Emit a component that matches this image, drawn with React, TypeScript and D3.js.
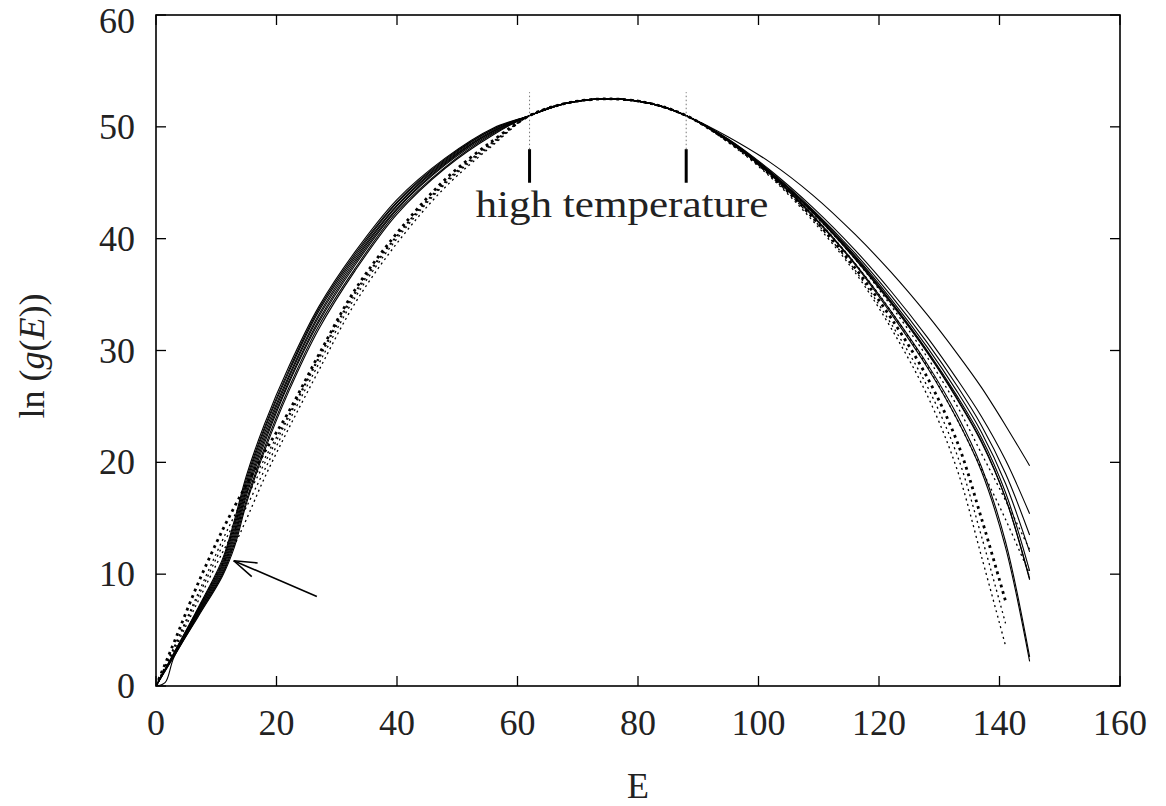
import React from "react";
import * as d3 from "d3";

// ---- grids (E values) ----
const E_LEFT = [0, 1.5, 3, 7, 11, 13, 15, 18, 22, 27, 33, 40, 48, 56];
const E_PEAK = [62, 68, 75, 82, 88];
const E_RIGHT = [95, 102, 109, 116, 122, 128, 133, 137, 141, 145];
const PEAK = [51.0, 52.1, 52.5, 52.1, 51.0];

// ---- solid curves: left branches ----
const L1 = [0, 1.5, 3.0, 7.0, 11.3, 14.8, 18.8, 23.4, 28.5, 33.9, 38.8, 43.5, 47.2, 49.9];
const L2 = [0, 1.48, 2.95, 6.9, 11.1, 14.5, 18.5, 23.1, 28.2, 33.7, 38.6, 43.3, 47.1, 49.8];
const L3 = [0, 1.45, 2.9, 6.8, 10.9, 14.2, 18.2, 22.9, 28.0, 33.5, 38.4, 43.2, 47.0, 49.8];
const L4 = [0, 1.42, 2.85, 6.7, 10.7, 13.9, 17.9, 22.6, 27.7, 33.2, 38.2, 43.0, 46.9, 49.7];
const L5 = [0, 1.4, 2.8, 6.6, 10.5, 13.6, 17.6, 22.3, 27.5, 33.0, 38.0, 42.9, 46.8, 49.6];
const L6 = [0, 1.38, 2.75, 6.5, 10.3, 13.3, 17.3, 22.0, 27.2, 32.7, 37.8, 42.7, 46.7, 49.6];
const L7 = [0, 1.35, 2.7, 6.4, 10.1, 13.0, 17.0, 21.7, 27.0, 32.5, 37.6, 42.6, 46.6, 49.5];
const L8 = [0, 1.32, 2.65, 6.3, 9.95, 12.7, 16.6, 21.3, 26.6, 32.2, 37.3, 42.4, 46.4, 49.4];
const L9 = [0, 0.3, 2.6, 6.2, 9.8, 12.4, 16.3, 21.0, 26.3, 31.9, 37.1, 42.2, 46.3, 49.3];

// ---- solid curves: right branches ----
const R1 = [49.1, 46.8, 43.9, 40.4, 37.0, 33.2, 29.7, 26.7, 23.3, 19.7];
const R2 = [48.9, 46.1, 42.8, 39.0, 35.3, 31.2, 27.4, 24.1, 20.2, 15.4];
const R3 = [48.9, 46.0, 42.6, 38.7, 34.9, 30.7, 26.8, 23.3, 19.0, 13.5];
const R4 = [48.8, 45.9, 42.5, 38.5, 34.6, 30.3, 26.3, 22.7, 18.1, 12.0];
const R5 = [48.8, 45.9, 42.4, 38.4, 34.4, 30.0, 25.9, 22.2, 17.3, 10.3];
const R6 = [48.8, 45.8, 42.3, 38.2, 34.2, 29.8, 25.6, 21.8, 16.8, 9.6];
const R7 = [48.8, 45.9, 42.4, 38.3, 34.3, 29.9, 25.7, 21.9, 16.8, 9.5];
const R8 = [48.7, 45.7, 42.0, 37.7, 33.3, 28.5, 23.8, 19.2, 12.4, 2.2];
const R9 = [48.7, 45.8, 42.1, 37.8, 33.5, 28.8, 24.2, 19.6, 12.9, 2.6];

// ---- dotted curves ----
const DL1 = [0, 1.95, 3.9, 9.2, 13.9, 16.0, 18.0, 20.9, 24.5, 29.6, 35.4, 40.5, 45.3, 48.8];
const DL2 = [0, 1.45, 2.9, 6.9, 10.9, 12.6, 14.9, 18.6, 23.0, 28.2, 34.2, 39.6, 44.6, 48.4];
const DL3 = [0, 1.7, 3.4, 8.0, 12.5, 14.6, 16.8, 19.9, 24.0, 29.2, 35.0, 40.2, 45.0, 48.6];
const DL4 = [0, 1.6, 3.2, 7.6, 11.9, 13.9, 16.0, 19.3, 23.6, 28.8, 34.7, 40.0, 44.9, 48.5];
const DL5 = [0, 1.75, 3.5, 8.3, 13.0, 15.2, 17.3, 20.3, 24.2, 29.4, 35.2, 40.3, 45.1, 48.7];

const DR1 = [48.7, 45.7, 41.9, 37.4, 32.9, 27.6, 21.8, 15.0, 7.6];
const DR2 = [48.6, 45.5, 41.6, 37.0, 32.0, 26.0, 19.3, 11.6, 3.6];
const DR3 = [48.7, 45.6, 41.8, 37.2, 32.4, 26.8, 20.6, 13.4, 5.6];
const DR4 = [48.8, 45.8, 42.1, 37.8, 33.5, 28.6, 23.8, 19.4, 14.9, 10.0];
const DR5 = [48.8, 45.9, 42.3, 38.2, 34.0, 29.4, 25.0, 20.8, 16.6, 12.2];

const SOLID = [
  [L3, R1], [L1, R2], [L5, R3], [L7, R4], [L9, R5],
  [L2, R6], [L4, R7], [L6, R8], [L8, R9],
];
const DOTTED_THIN = [[DL2, DR2], [DL3, DR3], [DL4, DR4], [DL5, DR5]];
const DOTTED_THICK = [[DL1, DR1]];

const X_TICKS = [0, 20, 40, 60, 80, 100, 120, 140, 160];
const Y_TICKS = [0, 10, 20, 30, 40, 50, 60];

// annotations (data coords)
const HT_MARKS = [62, 88];
const HT_DOT = [48, 53.1];
const HT_BAR = [45, 48];
const HT_LABEL = "high temperature";
const ARROW_FROM = [26.7, 8.0];
const ARROW_TO = [12.9, 11.2];

function build(left: number[], right: number[]): [number, number][] {
  return [
    ...E_LEFT.map((e, i) => [e, left[i]] as [number, number]),
    ...E_PEAK.map((e, i) => [e, PEAK[i]] as [number, number]),
    ...right.map((v, i) => [E_RIGHT[i], v] as [number, number]),
  ];
}

export default function App() {
  const W = 1166, H = 806;
  const x = d3.scaleLinear().domain([0, 160]).range([156, 1120]);
  const y = d3.scaleLinear().domain([0, 60]).range([686, 15]);
  const line = d3
    .line<[number, number]>()
    .x((d) => x(d[0]))
    .y((d) => y(d[1]))
    .curve(d3.curveCatmullRom.alpha(0.5));

  const font = "'Liberation Serif', 'Times New Roman', serif";
  const fs = 36;
  const tl = 10;
  const [x0, x1] = x.range();
  const [y0, y1] = y.range();

  // arrow head
  const ax1 = x(ARROW_FROM[0]), ay1 = y(ARROW_FROM[1]);
  const ax2 = x(ARROW_TO[0]), ay2 = y(ARROW_TO[1]);
  const ang = Math.atan2(ay1 - ay2, ax1 - ax2);
  const hl = 24, ha = (18 * Math.PI) / 180;
  const w1 = [ax2 + hl * Math.cos(ang + ha), ay2 + hl * Math.sin(ang + ha)];
  const w2 = [ax2 + hl * Math.cos(ang - ha), ay2 + hl * Math.sin(ang - ha)];

  return (
    <svg width={W} height={H} style={{ position: "absolute", left: 0, top: 0, background: "#fff" }}>
      <rect x={0} y={0} width={W} height={H} fill="#fff" />
      <defs>
        <clipPath id="plot">
          <rect x={x0} y={y1} width={x1 - x0} height={y0 - y1} />
        </clipPath>
      </defs>
      <g clipPath="url(#plot)" fill="none">
        {DOTTED_THIN.map(([l, r], i) => (
          <path key={"dt" + i} d={line(build(l, r)) || ""} stroke="#000" strokeWidth={1.3} strokeDasharray="2 3.5" />
        ))}
        {DOTTED_THICK.map(([l, r], i) => (
          <path key={"dk" + i} d={line(build(l, r)) || ""} stroke="#000" strokeWidth={2.8} strokeDasharray="2.8 4" />
        ))}
        {SOLID.map(([l, r], i) => (
          <path key={"s" + i} d={line(build(l, r)) || ""} stroke="#000" strokeWidth={1.1} />
        ))}
      </g>

      {/* high temperature markers */}
      {HT_MARKS.map((m, i) => (
        <g key={"ht" + i}>
          <line x1={x(m)} x2={x(m)} y1={y(HT_DOT[0])} y2={y(HT_DOT[1])} stroke="#777" strokeWidth={1} strokeDasharray="1.5 2.5" />
          <line x1={x(m)} x2={x(m)} y1={y(HT_BAR[0])} y2={y(HT_BAR[1])} stroke="#000" strokeWidth={3} />
        </g>
      ))}
      <text x={622} y={217} textAnchor="middle" fontFamily={font} fontSize={38} textLength={293} lengthAdjust="spacingAndGlyphs" fill="#222">
        {HT_LABEL}
      </text>

      {/* arrow */}
      <g stroke="#000" strokeWidth={1.6} fill="none">
        <line x1={ax1} y1={ay1} x2={ax2} y2={ay2} />
        <line x1={ax2} y1={ay2} x2={w1[0]} y2={w1[1]} />
        <line x1={ax2} y1={ay2} x2={w2[0]} y2={w2[1]} />
      </g>

      {/* frame */}
      <rect x={x0} y={y1} width={x1 - x0} height={y0 - y1} fill="none" stroke="#000" strokeWidth={1.6} />
      {/* ticks */}
      <g stroke="#000" strokeWidth={1.3}>
        {X_TICKS.map((t) => (
          <g key={"xt" + t}>
            <line x1={x(t)} x2={x(t)} y1={y0} y2={y0 - tl} />
            <line x1={x(t)} x2={x(t)} y1={y1} y2={y1 + tl} />
          </g>
        ))}
        {Y_TICKS.map((t) => (
          <g key={"yt" + t}>
            <line x1={x0} x2={x0 + tl} y1={y(t)} y2={y(t)} />
            <line x1={x1} x2={x1 - tl} y1={y(t)} y2={y(t)} />
          </g>
        ))}
      </g>
      <g fontFamily={font} fontSize={fs} fill="#222">
        {X_TICKS.map((t) => (
          <text key={"xl" + t} x={x(t)} y={735} textAnchor="middle">{t}</text>
        ))}
        {Y_TICKS.map((t) => (
          <text key={"yl" + t} x={135} y={Math.max(y(t) + 12, 33)} textAnchor="end">{t}</text>
        ))}
        <text x={(x0 + x1) / 2} y={798} textAnchor="middle">E</text>
        <text transform="translate(44,356) rotate(-90)" textAnchor="middle">
          ln (<tspan fontStyle="italic">g</tspan>(<tspan fontStyle="italic">E</tspan>))
        </text>
      </g>
    </svg>
  );
}
